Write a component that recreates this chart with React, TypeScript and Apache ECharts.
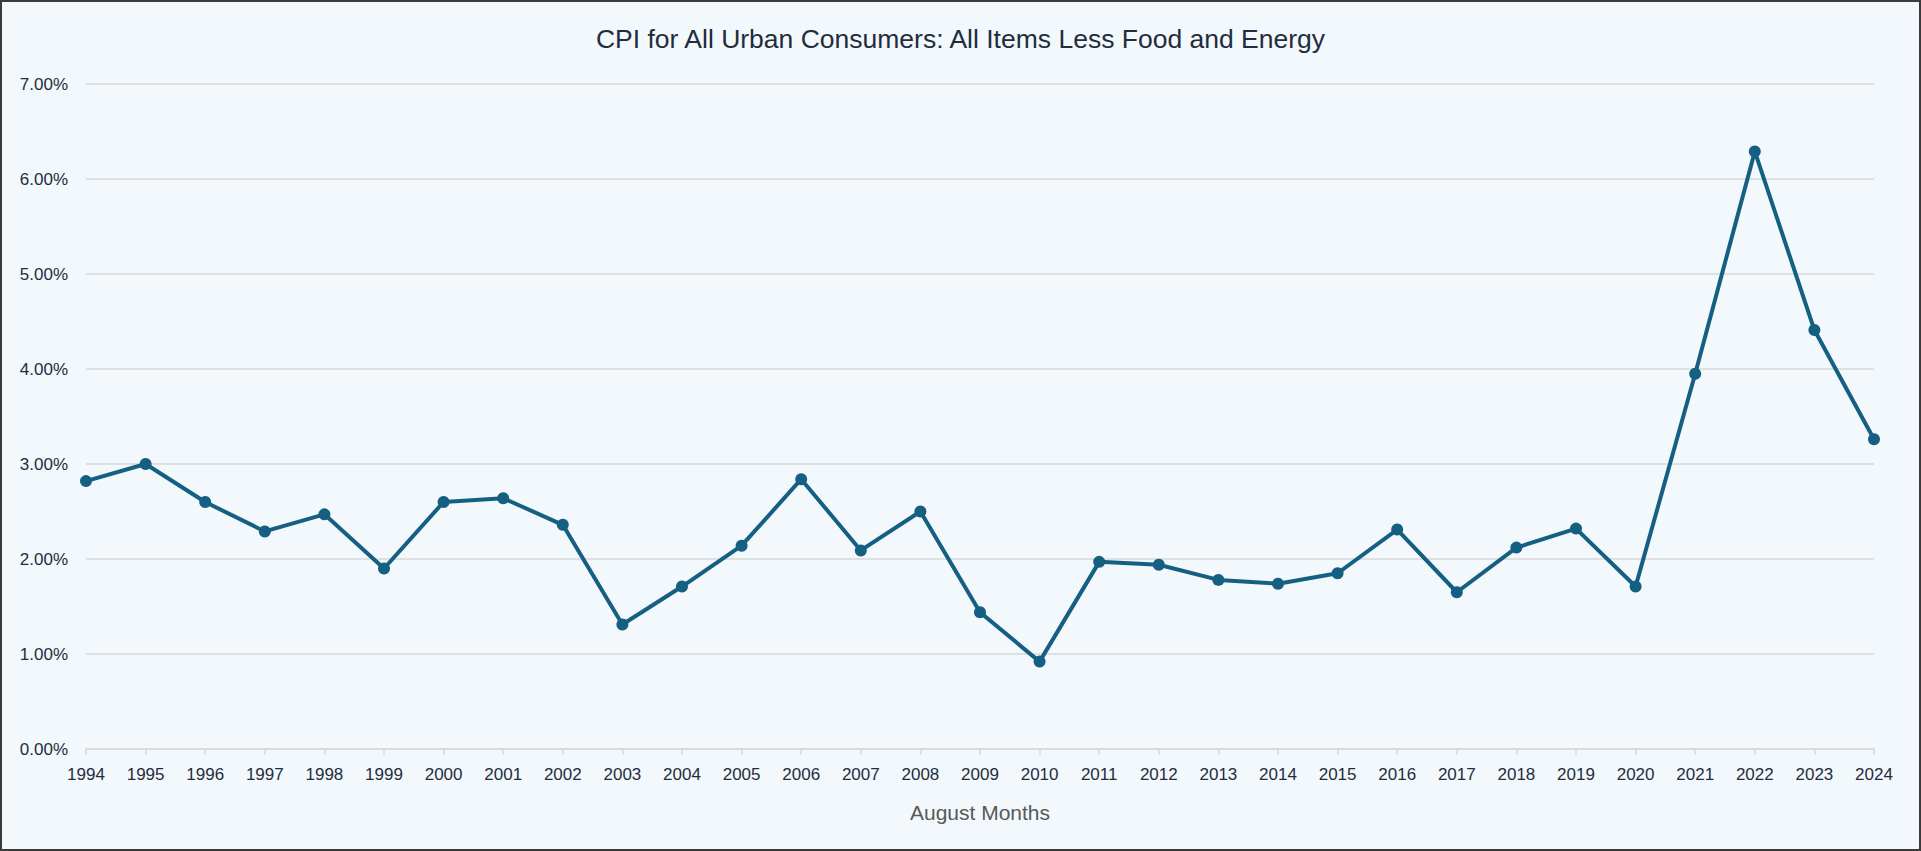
import React, { useEffect, useRef } from "react";
import * as echarts from "echarts";

const years: string[] = [
  "1994", "1995", "1996", "1997", "1998", "1999", "2000", "2001", "2002", "2003",
  "2004", "2005", "2006", "2007", "2008", "2009", "2010", "2011", "2012", "2013",
  "2014", "2015", "2016", "2017", "2018", "2019", "2020", "2021", "2022", "2023", "2024",
];

const cpiValues: number[] = [
  2.82, 3.0, 2.6, 2.29, 2.47, 1.9, 2.6, 2.64, 2.36, 1.31,
  1.71, 2.14, 2.84, 2.09, 2.5, 1.44, 0.92, 1.97, 1.94, 1.78,
  1.74, 1.85, 2.31, 1.65, 2.12, 2.32, 1.71, 3.95, 6.29, 4.41, 3.26,
];

const titleText = "CPI for All Urban Consumers: All Items Less Food and Energy";
const xAxisName = "August Months";

const FONT = "'Liberation Sans', Arial, sans-serif";
const TEXT_COLOR = "#1f2d3d";
const LINE_COLOR = "#156082";
const GRID_COLOR = "#d9d9d9";

export default function App() {
  const ref = useRef<HTMLDivElement>(null);

  useEffect(() => {
    document.body.style.margin = "0";
    if (!ref.current) return;
    const chart = echarts.init(ref.current, null, { renderer: "svg" });
    chart.setOption({
      animation: false,
      backgroundColor: "#f2f8fc",
      textStyle: { fontFamily: FONT },
      title: {
        text: titleText,
        left: "center",
        top: 18,
        textStyle: {
          fontFamily: FONT,
          fontSize: 26.5,
          fontWeight: "normal",
          color: TEXT_COLOR,
        },
      },
      grid: {
        left: 84,
        right: 45,
        top: 82,
        bottom: 100,
        containLabel: false,
      },
      xAxis: {
        type: "category",
        data: years,
        boundaryGap: false,
        name: xAxisName,
        nameLocation: "middle",
        nameGap: 53,
        nameTextStyle: {
          fontFamily: FONT,
          fontSize: 21,
          color: "#595959",
        },
        axisLine: { show: true, lineStyle: { color: GRID_COLOR, width: 1.5 } },
        axisTick: { show: true, length: 6, lineStyle: { color: GRID_COLOR, width: 1.5 } },
        axisLabel: {
          fontFamily: FONT,
          fontSize: 17,
          color: TEXT_COLOR,
          margin: 17,
          interval: 0,
        },
        splitLine: { show: false },
      },
      yAxis: {
        type: "value",
        min: 0,
        max: 7,
        interval: 1,
        axisLine: { show: false },
        axisTick: { show: false },
        axisLabel: {
          fontFamily: FONT,
          fontSize: 17,
          color: TEXT_COLOR,
          margin: 18,
          formatter: (v: number) => `${v.toFixed(2)}%`,
        },
        splitLine: { show: true, lineStyle: { color: GRID_COLOR, width: 1.5 } },
      },
      series: [
        {
          type: "line",
          data: cpiValues,
          symbol: "circle",
          symbolSize: 12,
          showSymbol: true,
          lineStyle: { color: LINE_COLOR, width: 4 },
          itemStyle: { color: LINE_COLOR },
        },
      ],
    });
    return () => chart.dispose();
  }, []);

  return (
    <div
      ref={ref}
      style={{
        position: "fixed",
        left: 0,
        top: 0,
        width: 1921,
        height: 851,
        boxSizing: "border-box",
        border: "2px solid #3a3a3a",
      }}
    />
  );
}
